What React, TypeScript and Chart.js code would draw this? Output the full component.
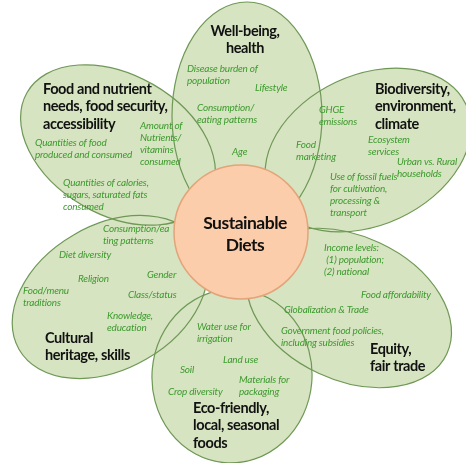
import { useEffect, useRef } from "react";
import { Chart, registerables } from "chart.js";

Chart.register(...registerables);

// ---------- data (text content) ----------
const centerTitle = ["Sustainable", "Diets"];

const petalTitles: string[][] = [
  ["Well-being,", "health"],
  ["Biodiversity,", "environment,", "climate"],
  ["Equity,", "fair trade"],
  ["Eco-friendly,", "local, seasonal", "foods"],
  ["Cultural", "heritage, skills"],
  ["Food and nutrient", "needs, food security,", "accessibility"],
];

const wellbeingFactors = [
  ["Disease burden of", "population"],
  ["Lifestyle"],
  ["Consumption/", "eating patterns"],
  ["Age"],
];
const biodiversityFactors = [
  ["GHGE", "emissions"],
  ["Food", "marketing"],
  ["Ecosystem", "services"],
  ["Urban vs. Rural", "households"],
  ["Use of fossil fuels", "for cultivation,", "processing &", "transport"],
];
const equityFactors = [
  ["Income levels:", " (1) population;", "(2) national"],
  ["Food affordability"],
  ["Globalization & Trade"],
  ["Government food policies,", "including subsidies"],
];
const ecoFactors = [
  ["Water use for", "irrigation"],
  ["Land use"],
  ["Soil"],
  ["Materials for", "packaging"],
  ["Crop diversity"],
];
const culturalFactors = [
  ["Consumption/ea", "ting patterns"],
  ["Diet diversity"],
  ["Religion"],
  ["Gender"],
  ["Food/menu", "traditions"],
  ["Class/status"],
  ["Knowledge,", "education"],
];
const foodFactors = [
  ["Amount of", "Nutrients/", "vitamins", "consumed"],
  ["Quantities of food", "produced and consumed"],
  ["Quantities of calories,", "sugars, saturated fats", "consumed"],
];

const petalFactors = [
  wellbeingFactors,
  biodiversityFactors,
  equityFactors,
  ecoFactors,
  culturalFactors,
  foodFactors,
];

// ---------- layout (in scale units) ----------
const W = 466;
const H = 463;

type Petal = { cx: number; cy: number; rx: number; ry: number; rot: number };
const petalShapes: Petal[] = [
  { cx: 247, cy: 116, rx: 75, ry: 114, rot: 0 },
  { cx: 368, cy: 150, rx: 108, ry: 75, rot: -25 },
  { cx: 349, cy: 308, rx: 108, ry: 72, rot: 25 },
  { cx: 232, cy: 376, rx: 80, ry: 87, rot: 5 },
  { cx: 110, cy: 297, rx: 105, ry: 72, rot: -30 },
  { cx: 118, cy: 145, rx: 105, ry: 70, rot: 30 },
];
const hub = { cx: 241, cy: 232, r: 67 };

type Anchor = { x: number; y: number; align?: CanvasTextAlign };
const titleAnchors: Anchor[] = [
  { x: 245, y: 31, align: "center" },
  { x: 375, y: 89 },
  { x: 370, y: 349 },
  { x: 193, y: 408 },
  { x: 45, y: 338 },
  { x: 43, y: 89 },
];
const factorAnchors: Anchor[][] = [
  [{ x: 187, y: 69 }, { x: 255, y: 88 }, { x: 197, y: 108 }, { x: 232, y: 152 }],
  [{ x: 319, y: 110 }, { x: 296, y: 145 }, { x: 368, y: 140 }, { x: 397, y: 162 }, { x: 330, y: 177 }],
  [{ x: 324, y: 248 }, { x: 361, y: 295 }, { x: 284, y: 310 }, { x: 281, y: 331 }],
  [{ x: 197, y: 327 }, { x: 223, y: 360 }, { x: 180, y: 370 }, { x: 239, y: 380 }, { x: 168, y: 392 }],
  [
    { x: 103, y: 229 }, { x: 59, y: 255 }, { x: 78, y: 279 }, { x: 147, y: 275 },
    { x: 23, y: 291 }, { x: 128, y: 295 }, { x: 107, y: 316 },
  ],
  [{ x: 140, y: 126 }, { x: 35, y: 143 }, { x: 63, y: 183 }],
];

// ---------- styles ----------
const PETAL_FILL = "#d6e4c1";
const PETAL_STROKE = "#6f9856";
const HUB_FILL = "#fbcdab";
const HUB_STROKE = "#e3a47a";
const FACTOR_COLOR = "#3d9a2e";
const TITLE_COLOR = "#111111";
const FONT = "Lato, 'Open Sans', sans-serif";
const TITLE_SIZE = 14.5;
const TITLE_LH = 17.5;
const FACTOR_SIZE = 10;
const FACTOR_LH = 12;

const flowerPlugin = {
  id: "flower",
  beforeDatasetsDraw(chart: any) {
    const { ctx, scales } = chart;
    const xs = scales.x;
    const ys = scales.y;
    const px = (v: number) => xs.getPixelForValue(v);
    const py = (v: number) => ys.getPixelForValue(v);
    ctx.save();
    const paths = petalShapes.map((p) => {
      const x = px(p.cx);
      const y = py(p.cy);
      const rx = Math.abs(px(p.cx + p.rx) - x);
      const ry = Math.abs(py(p.cy + p.ry) - y);
      const path = new Path2D();
      path.ellipse(x, y, rx, ry, (p.rot * Math.PI) / 180, 0, Math.PI * 2);
      return path;
    });
    ctx.fillStyle = PETAL_FILL;
    paths.forEach((path) => ctx.fill(path));
    ctx.strokeStyle = PETAL_STROKE;
    ctx.lineWidth = 1.2;
    paths.forEach((path) => ctx.stroke(path));

    const hx = px(hub.cx);
    const hy = py(hub.cy);
    const hr = Math.abs(px(hub.cx + hub.r) - hx);
    ctx.beginPath();
    ctx.arc(hx, hy, hr, 0, Math.PI * 2);
    ctx.fillStyle = HUB_FILL;
    ctx.fill();
    ctx.strokeStyle = HUB_STROKE;
    ctx.lineWidth = 1.5;
    ctx.stroke();
    ctx.restore();
  },
  afterDatasetsDraw(chart: any) {
    const { ctx, scales } = chart;
    const px = (v: number) => scales.x.getPixelForValue(v);
    const py = (v: number) => scales.y.getPixelForValue(v);
    ctx.save();
    ctx.textBaseline = "middle";

    const drawLines = (lines: string[], a: Anchor, lh: number) => {
      ctx.textAlign = a.align || "left";
      lines.forEach((line, i) => {
        ctx.fillText(line, px(a.x), py(a.y + i * lh));
      });
    };

    // factors
    ctx.font = `italic ${FACTOR_SIZE}px ${FONT}`;
    ctx.fillStyle = FACTOR_COLOR;
    ctx.letterSpacing = "-0.2px";
    petalFactors.forEach((group, gi) => {
      group.forEach((lines, li) => drawLines(lines, factorAnchors[gi][li], FACTOR_LH));
    });

    // petal titles
    ctx.font = `bold ${TITLE_SIZE}px ${FONT}`;
    ctx.fillStyle = TITLE_COLOR;
    ctx.letterSpacing = "-0.4px";
    petalTitles.forEach((lines, i) => drawLines(lines, titleAnchors[i], TITLE_LH));

    // centre title
    ctx.font = `bold 17.5px ${FONT}`;
    ctx.letterSpacing = "-0.5px";
    drawLines(centerTitle, { x: hub.cx + 4, y: 223, align: "center" }, 22);
    ctx.restore();
  },
};

export default function App() {
  const ref = useRef<HTMLCanvasElement | null>(null);
  useEffect(() => {
    if (!ref.current) return;
    const chart = new Chart(ref.current, {
      type: "scatter",
      data: {
        datasets: [
          {
            data: [
              ...petalShapes.map((p) => ({ x: p.cx, y: p.cy })),
              { x: hub.cx, y: hub.cy },
            ],
            pointRadius: 0,
          },
        ],
      },
      options: {
        animation: false,
        responsive: false,
        events: [],
        layout: { padding: 0 },
        plugins: { legend: { display: false }, tooltip: { enabled: false } },
        scales: {
          x: { type: "linear", min: 0, max: W, display: false },
          y: { type: "linear", min: 0, max: H, reverse: true, display: false },
        },
      },
      plugins: [flowerPlugin],
    });
    return () => chart.destroy();
  }, []);
  return (
    <div style={{ position: "fixed", left: 0, top: 0, width: W, height: H, background: "#fff" }}>
      <canvas ref={ref} width={W} height={H} style={{ display: "block" }} />
    </div>
  );
}
